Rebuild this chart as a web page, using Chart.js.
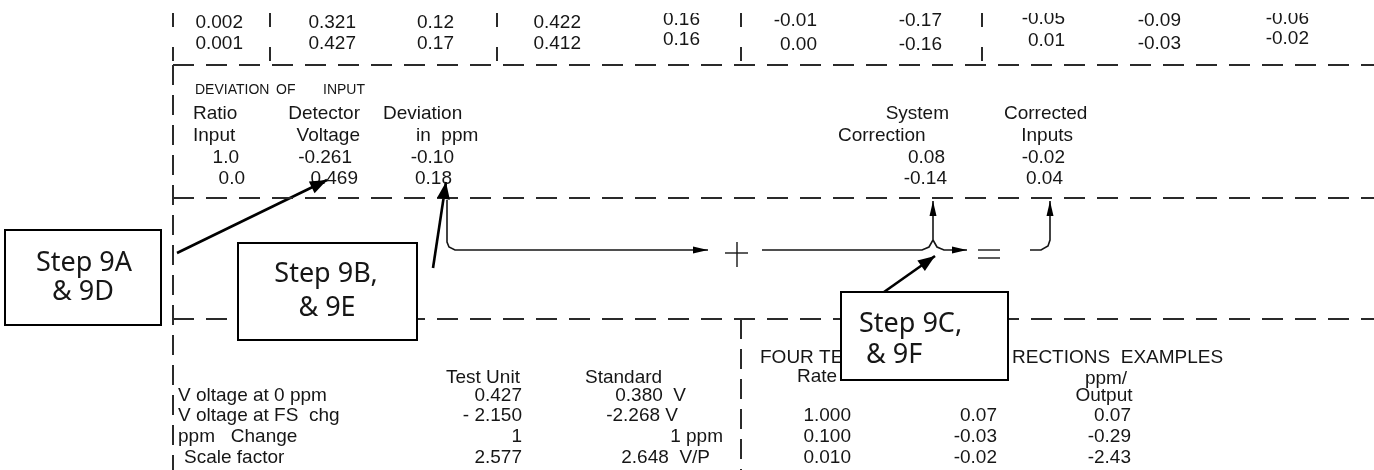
<!DOCTYPE html>
<html>
<head>
<meta charset="utf-8">
<script src="https://cdn.jsdelivr.net/npm/chart.js@4.4.0/dist/chart.umd.min.js"></script>
<style>
    html, body { margin: 0; padding: 0; background: #fff; }
</style>
</head>
<body>
<canvas id="sheet" width="1374" height="470"></canvas>
<script>
// Sheet coordinates: x 0..1374, y 0..470 (top down), mapped 1:1 by the chart scales
const SHEET_W = 1374;
const SHEET_H = 470;

// ---- values -------------------------------------------------------------
// top block, two result rows
const topRow1 = ['0.002', '0.321', '0.12', '0.422', '0.16', '-0.01', '-0.17', '-0.05', '-0.09', '-0.06'];
const topRow2 = ['0.001', '0.427', '0.17', '0.412', '0.16', '0.00', '-0.16', '0.01', '-0.03', '-0.02'];

// deviation of input block
const devTitle = ['DEVIATION', 'OF', 'INPUT'];
const devHead1 = ['Ratio', 'Detector', 'Deviation', 'System', 'Corrected'];
const devHead2 = ['Input', 'Voltage', 'in  ppm', 'Correction', 'Inputs'];
const ratioInput = ['1.0', '0.0'];
const detectorVoltage = ['-0.261', '0.469'];
const deviationPpm = ['-0.10', '0.18'];
const systemCorrection = ['0.08', '-0.14'];
const correctedInputs = ['-0.02', '0.04'];

// scale factor block
const scaleHeads = ['Test Unit', 'Standard'];
const scaleLabels = ['V oltage at 0 ppm', 'V oltage at FS  chg', 'ppm   Change', 'Scale factor'];
const testUnit = ['0.427', '- 2.150', '1', '2.577'];
const standardUnit = ['0.380  V', '-2.268 V', '1 ppm', '2.648  V/P'];

// four term corrections examples
const fourTermTitle = ['FOUR TE', 'RECTIONS  EXAMPLES'];
const rateHead = ['Rate'];
const outputHead = ['ppm/', 'Output'];
const rates = ['1.000', '0.100', '0.010'];
const termCorrection = ['0.07', '-0.03', '-0.02'];
const ppmOutput = ['0.07', '-0.29', '-2.43'];

// callout boxes
const stepLabels = [['Step 9A', '& 9D'], ['Step 9B,', '& 9E'], ['Step 9C,', ' & 9F']];

// ---- layout -------------------------------------------------------------
const topColRight = [243, 356, 454, 581, 700, 817, 942, 1065, 1181, 1309];
const topRow1Y = [21, 21, 21, 21, 18, 19, 19, 17, 19, 17];
const topRow2Y = [42, 42, 42, 42, 38, 43, 43, 39, 42, 37];
const topTickX = [173, 270, 497, 741, 982];

const devRowsY = [112, 134, 156, 177];
const scaleRowsY = [376, 394, 414, 435, 456];
const termRowsY = [356, 375, 394];

// dashed rules (sheet grid)
const dashedRules = [
    [[173, 65], [SHEET_W, 65]],
    [[173, 198], [SHEET_W, 198]],
    [[173, 319], [SHEET_W, 319]],
];
const dashedBorders = [
    [[173, 65], [173, SHEET_H]],
    [[741, 319], [741, SHEET_H]],
];

// flow lines of the correction diagram (last point gets an arrow head)
const flowPaths = [
    [[447, 200], [447, 242], [449, 247], [455, 250], [708, 250]],
    [[762, 250], [922, 250], [929, 247], [933, 240], [933, 201]],
    [[933, 240], [937, 247], [944, 250], [967, 250]],
    [[1030, 250], [1041, 250], [1048, 246], [1050, 240], [1050, 201]],
];
const plusSign = [[[725, 253], [748, 253]], [[737, 242], [737, 267]]];
const equalsSign = [[[978, 250], [1000, 250]], [[978, 258], [1000, 258]]];

// pointer arrows from the step boxes
const pointerArrows = [
    [[177, 253], [327, 180]],
    [[433, 268], [446, 182]],
    [[884, 292], [935, 256]],
];

// step boxes: left, top, right, bottom
const stepBoxes = [[5, 230, 161, 325], [238, 243, 417, 340], [841, 292, 1008, 380]];

// ---- chart --------------------------------------------------------------
const INK = '#161616';
const TABLE_FONT = '"Liberation Sans", Arial, sans-serif';
const BOX_FONT = '"Noto Sans", "DejaVu Sans", sans-serif';

const toPoints = (path) => path.map(([x, y]) => ({ x: x, y: y }));

const lineSet = (path, width, dash, color) => ({
    data: toPoints(path),
    showLine: true,
    borderColor: color || INK,
    borderWidth: width,
    borderDash: dash || [],
    pointRadius: 0,
    fill: false,
    tension: 0,
});

const datasets = [];
dashedRules.forEach(p => datasets.push(lineSet(p, 2, [21, 12], '#2a2a2a')));
dashedBorders.forEach(p => datasets.push(lineSet(p, 2, [20, 10], '#2a2a2a')));
topTickX.forEach(x => datasets.push(lineSet([[x, 13], [x, 65]], 2, [14, 20], '#2a2a2a')));
flowPaths.forEach(p => datasets.push(lineSet(p, 1.6)));
plusSign.forEach(p => datasets.push(lineSet(p, 1.4)));
equalsSign.forEach(p => datasets.push(lineSet(p, 1.4)));
pointerArrows.forEach(p => datasets.push(lineSet(p, 2.6, [], '#000')));

// text, arrow heads and boxes drawn on top, placed with the chart's scales
const sheetPlugin = {
    id: 'sheetPlugin',
    afterDatasetsDraw(chart) {
        const ctx = chart.ctx;
        const sx = (v) => chart.scales.x.getPixelForValue(v);
        const sy = (v) => chart.scales.y.getPixelForValue(v);

        // y is the visual middle of capitals/digits
        const text = (str, x, y, align, size, family) => {
            ctx.font = size + 'px ' + (family || TABLE_FONT);
            ctx.textAlign = align;
            ctx.textBaseline = 'alphabetic';
            ctx.fillStyle = INK;
            ctx.fillText(str, sx(x), sy(y) + size * 0.36);
        };

        const head = (path, len, half) => {
            const [x1, y1] = path[path.length - 2];
            const [x2, y2] = path[path.length - 1];
            const px1 = sx(x1), py1 = sy(y1), px2 = sx(x2), py2 = sy(y2);
            const d = Math.hypot(px2 - px1, py2 - py1);
            const ux = (px2 - px1) / d, uy = (py2 - py1) / d;
            const bx = px2 - ux * len, by = py2 - uy * len;
            ctx.beginPath();
            ctx.moveTo(px2, py2);
            ctx.lineTo(bx - uy * half, by + ux * half);
            ctx.lineTo(bx + uy * half, by - ux * half);
            ctx.closePath();
            ctx.fillStyle = '#000';
            ctx.fill();
        };

        ctx.save();

        // top block (scan cuts the top of the right half of row 1)
        topRow1.forEach((v, i) => {
            ctx.save();
            if (i >= 4) {
                ctx.beginPath();
                ctx.rect(sx(590), sy(13), sx(SHEET_W) - sx(590), sy(60) - sy(13));
                ctx.clip();
            }
            text(v, topColRight[i], topRow1Y[i], 'right', 19);
            ctx.restore();
        });
        topRow2.forEach((v, i) => text(v, topColRight[i], topRow2Y[i], 'right', 19));

        // deviation of input block
        text(devTitle[0], 195, 89, 'left', 14);
        text(devTitle[1], 276, 89, 'left', 14);
        text(devTitle[2], 323, 89, 'left', 14);

        text(devHead1[0], 193, devRowsY[0], 'left', 19);
        text(devHead2[0], 193, devRowsY[1], 'left', 19);
        text(devHead1[1], 360, devRowsY[0], 'right', 19);
        text(devHead2[1], 360, devRowsY[1], 'right', 19);
        text(devHead1[2], 383, devRowsY[0], 'left', 19);
        text(devHead2[2], 416, devRowsY[1], 'left', 19);
        text(devHead1[3], 949, devRowsY[0], 'right', 19);
        text(devHead2[3], 838, devRowsY[1], 'left', 19);
        text(devHead1[4], 1004, devRowsY[0], 'left', 19);
        text(devHead2[4], 1073, devRowsY[1], 'right', 19);

        const ratioRight = [239, 245];
        const detRight = [352, 358];
        const devRight = [454, 452];
        const sysRight = [945, 947];
        const corrRight = [1065, 1063];
        [0, 1].forEach(r => {
            const y = devRowsY[r + 2];
            text(ratioInput[r], ratioRight[r], y, 'right', 19);
            text(detectorVoltage[r], detRight[r], y, 'right', 19);
            text(deviationPpm[r], devRight[r], y, 'right', 19);
            text(systemCorrection[r], sysRight[r], y, 'right', 19);
            text(correctedInputs[r], corrRight[r], y, 'right', 19);
        });

        // scale factor block
        text(scaleHeads[0], 446, scaleRowsY[0], 'left', 19);
        text(scaleHeads[1], 585, scaleRowsY[0], 'left', 19);
        const labelX = [178, 178, 178, 184];
        const standardRight = [686, 678, 723, 710];
        scaleLabels.forEach((s, i) => {
            const y = scaleRowsY[i + 1];
            text(s, labelX[i], y, 'left', 19);
            text(testUnit[i], 522, y, 'right', 19);
            text(standardUnit[i], standardRight[i], y, 'right', 19);
        });

        // four term corrections block
        text(fourTermTitle[0], 760, termRowsY[0], 'left', 19);
        text(fourTermTitle[1], 1012, termRowsY[0], 'left', 19);
        text(rateHead[0], 797, termRowsY[1], 'left', 19);
        text(outputHead[0], 1106, termRowsY[1] + 2, 'center', 19);
        text(outputHead[1], 1104, termRowsY[2], 'center', 19);
        rates.forEach((v, i) => {
            const y = scaleRowsY[i + 2];
            text(v, 851, y, 'right', 19);
            text(termCorrection[i], 997, y, 'right', 19);
            text(ppmOutput[i], 1131, y, 'right', 19);
        });

        // arrow heads
        flowPaths.forEach(p => head(p, 15, 3.5));
        pointerArrows.forEach(p => head(p, 17, 6.5));

        // step boxes
        const boxText = [
            { align: 'center', x: [84, 83], y: [261, 290] },
            { align: 'center', x: [326, 327], y: [272, 306] },
            { align: 'left', x: [859, 859], y: [322, 353] },
        ];
        stepBoxes.forEach((b, i) => {
            const [l, t, r, bt] = b;
            ctx.fillStyle = '#fff';
            ctx.fillRect(sx(l), sy(t), sx(r) - sx(l), sy(bt) - sy(t));
            ctx.strokeStyle = '#000';
            ctx.lineWidth = 2;
            ctx.strokeRect(sx(l), sy(t), sx(r) - sx(l), sy(bt) - sy(t));
            stepLabels[i].forEach((s, k) => {
                text(s, boxText[i].x[k], boxText[i].y[k], boxText[i].align, 27, BOX_FONT);
            });
        });

        ctx.restore();
    }
};

new Chart(document.getElementById('sheet'), {
    type: 'scatter',
    data: { datasets: datasets },
    options: {
        responsive: false,
        animation: false,
        layout: { padding: 0 },
        scales: {
            x: { type: 'linear', min: 0, max: SHEET_W, display: false },
            y: { type: 'linear', min: 0, max: SHEET_H, reverse: true, display: false },
        },
        plugins: {
            legend: { display: false },
            tooltip: { enabled: false },
        },
        elements: { line: { borderCapStyle: 'butt' } },
    },
    plugins: [sheetPlugin],
});
</script>
</body>
</html>
